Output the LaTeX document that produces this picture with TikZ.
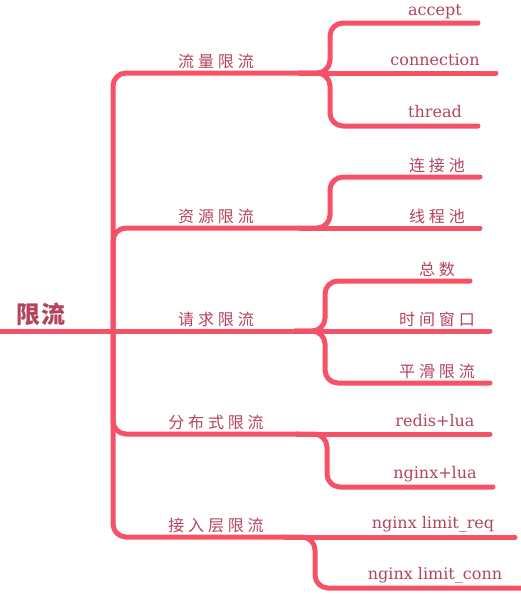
\documentclass[tikz,border=0pt]{standalone}
\usepackage{fontspec}
\setmainfont{DejaVu Serif}
\newfontfamily\cjk[LetterSpace=24]{Noto Sans CJK SC}
\newfontfamily\cjkroot[LetterSpace=6]{Noto Sans CJK SC}
\usetikzlibrary{positioning}
\definecolor{branchred}{RGB}{245,82,105}
\definecolor{labelred}{RGB}{178,68,92}

\begin{document}
\begin{tikzpicture}[x=1pt, y=-1pt,
    branch/.style={draw=branchred, line width=5pt, line cap=round, rounded corners=13pt},
    topic/.style={text=labelred, font=\cjk\fontsize{16}{16}\selectfont, anchor=south, inner sep=1pt},
    leaf/.style={text=labelred, font=\fontsize{16}{16}\selectfont, anchor=base, inner sep=1pt},
    cnleaf/.style={topic}]
    \useasboundingbox (0,0) rectangle (521,608);

    % Root
    \coordinate (west) at (0,331);
    \coordinate (hub) at (113,331);
    \node[text=labelred, font=\cjkroot\bfseries\fontsize{24}{24}\selectfont, inner sep=0pt] (xianliu) at (41,314) {限流};
    \draw[branch] (west) -- (hub);

    % Main branches: trunk to fork points
    \coordinate (liuliang) at (300,73);
    \coordinate (ziyuan) at (300,228);
    \coordinate (qingqiu) at (295,331);
    \coordinate (fenbushi) at (297,434);
    \coordinate (jieru) at (285,537);
    \draw[branch] (hub) |- (liuliang);
    \draw[branch] (hub) |- (ziyuan);
    \draw[branch] (hub) -- (qingqiu);
    \draw[branch] (hub) |- (fenbushi);
    \draw[branch] (hub) |- (jieru);
    \node[topic] (liuliang-t) at (216,70) {流量限流};
    \node[topic] (ziyuan-t) at (216,225) {资源限流};
    \node[topic] (qingqiu-t) at (216,328) {请求限流};
    \node[topic] (fenbushi-t) at (216,431) {分布式限流};
    \node[topic] (jieru-t) at (216,534) {接入层限流};

    % Leaves of 流量限流
    \coordinate (accept-e) at (478,23);
    \coordinate (conn-e) at (496,73);
    \coordinate (thread-e) at (478,126);
    \draw[branch] (liuliang) -- ++(30,0) |- (accept-e);
    \draw[branch] (liuliang) -- (conn-e);
    \draw[branch] (liuliang) -- ++(30,0) |- (thread-e);
    \node[leaf] (accept) at (435,15) {accept};
    \node[leaf] (conn) at (435,65) {connection};
    \node[leaf] (thread) at (435,117) {thread};

    % Leaves of 资源限流
    \coordinate (lianjie-e) at (480,177);
    \coordinate (xiancheng-e) at (480,228);
    \draw[branch] (ziyuan) -- ++(30,0) |- (lianjie-e);
    \draw[branch] (ziyuan) -- (xiancheng-e);
    \node[cnleaf] (lianjie) at (437,174) {连接池};
    \node[cnleaf] (xiancheng) at (437,225) {线程池};

    % Leaves of 请求限流
    \coordinate (zongshu-e) at (470,281);
    \coordinate (chuangkou-e) at (490,331);
    \coordinate (pinghua-e) at (490,383);
    \draw[branch] (qingqiu) -- ++(30,0) |- (zongshu-e);
    \draw[branch] (qingqiu) -- (chuangkou-e);
    \draw[branch] (qingqiu) -- ++(30,0) |- (pinghua-e);
    \node[cnleaf] (zongshu) at (437,278) {总数};
    \node[cnleaf] (chuangkou) at (437,328) {时间窗口};
    \node[cnleaf] (pinghua) at (437,380) {平滑限流};

    % Leaves of 分布式限流
    \coordinate (redis-e) at (490,434);
    \coordinate (nginxlua-e) at (493,487);
    \draw[branch] (fenbushi) -- (redis-e);
    \draw[branch] (fenbushi) -- ++(30,0) |- (nginxlua-e);
    \node[leaf] (redis) at (435,426) {redis+lua};
    \node[leaf] (nginxlua) at (435,478) {nginx+lua};

    % Leaves of 接入层限流
    \coordinate (req-e) at (515,537);
    \coordinate (limconn-e) at (530,588);
    \draw[branch] (jieru) -- (req-e);
    \draw[branch] (jieru) -- ++(30,0) |- (limconn-e);
    \node[leaf] (req) at (433,528) {nginx limit\_req};
    \node[leaf] (limconn) at (435,579) {nginx limit\_conn};
\end{tikzpicture}
\end{document}
